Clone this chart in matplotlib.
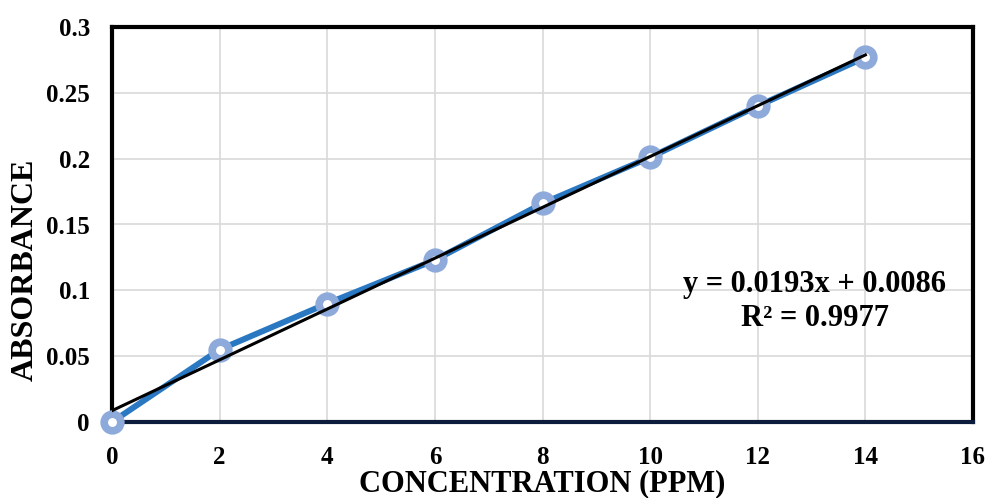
import numpy as np
import matplotlib
matplotlib.use("Agg")
import matplotlib.pyplot as plt

conc = [0, 2, 4, 6, 8, 10, 12, 14]
absorb = [0.0, 0.055, 0.090, 0.123, 0.166, 0.201, 0.240, 0.277]
slope = 0.0193
intercept = 0.0086
r2 = 0.9977
xticks = [0, 2, 4, 6, 8, 10, 12, 14, 16]
yticks = [0, 0.05, 0.1, 0.15, 0.2, 0.25, 0.3]
ytick_labels = ["0", "0.05", "0.1", "0.15", "0.2", "0.25", "0.3"]

plt.rcParams['font.family'] = ['Liberation Serif', 'DejaVu Serif']
plt.rcParams['font.weight'] = 'bold'

fig = plt.figure(figsize=(9.85, 4.98), dpi=100)
ax = fig.add_axes([112/985, 1 - 422/498, (973-112)/985, (422-27)/498])

ax.grid(True, color='#d9d9d9', linewidth=1.2, zorder=0)
ax.set_axisbelow(True)

ax.plot(conc, absorb, color='#2a78c2', linewidth=4.3, zorder=2, solid_capstyle='round', clip_on=False)
ax.plot(conc, absorb, linestyle='none', marker='o', markersize=12,
        markerfacecolor='white', markeredgecolor='#8eaadb', markeredgewidth=5.5, zorder=3, clip_on=False)
xs = np.array([conc[0], conc[-1]])
ax.plot(xs, slope * xs + intercept, color='black', linewidth=2.2, zorder=4)

ax.set_xlim(0, 16)
ax.set_ylim(0, 0.3)
ax.set_xticks(xticks)
ax.set_yticks(yticks)
ax.set_yticklabels(ytick_labels)
ax.tick_params(length=0, labelsize=18)
ax.tick_params(axis='x', pad=17)
ax.tick_params(axis='y', pad=16)
for lbl in ax.get_xticklabels() + ax.get_yticklabels():
    lbl.set_fontweight('bold')

for s in ['left', 'top', 'right']:
    ax.spines[s].set_color('black')
    ax.spines[s].set_linewidth(3)
ax.spines['bottom'].set_color('#0c1c3c')
ax.spines['bottom'].set_linewidth(3)

ax.set_xlabel('CONCENTRATION (PPM)', fontsize=22, fontweight='bold', va='center')
ax.xaxis.set_label_coords(0.5, -(484 - 422) / 395)
ax.set_ylabel('ABSORBANCE', fontsize=23, fontweight='bold', va='center')
ax.yaxis.set_label_coords((25 - 112) / 861, 1 - (270 - 27) / 395)

ax.text(13.06, 0.0915, f'y = {slope}x + {intercept}\nR² = {r2}', ha='center', va='center',
        fontsize=22, fontweight='bold', linespacing=1.2)

fig.savefig('out.png', dpi=100)
